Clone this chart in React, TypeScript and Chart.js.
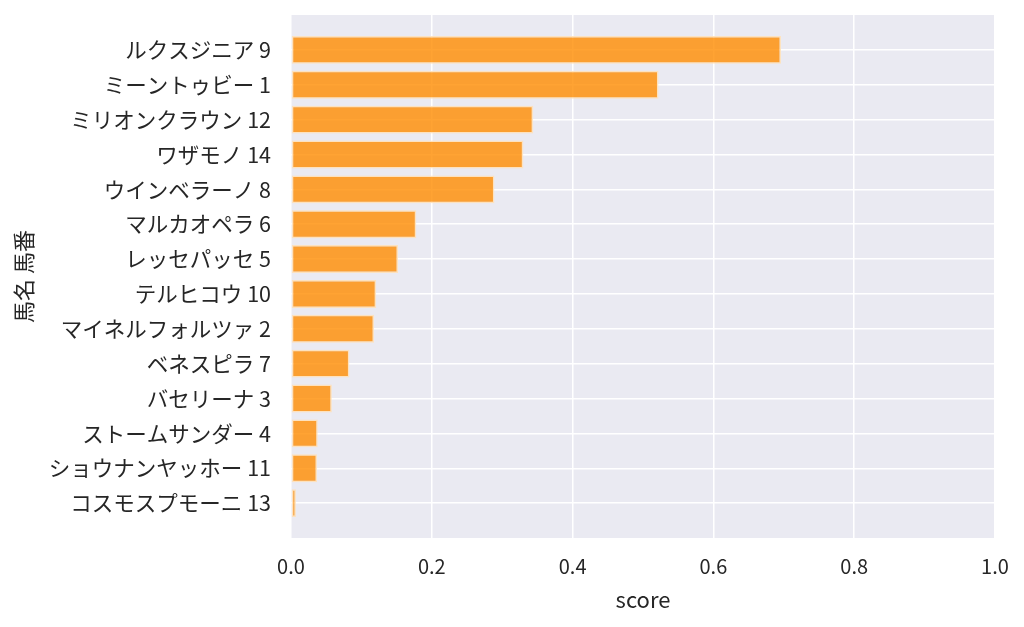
import { useEffect, useRef } from "react"
import { Chart, registerables, type Plugin } from "chart.js"

Chart.register(...registerables)

const horseNames = [
  "ルクスジニア",
  "ミーントゥビー",
  "ミリオンクラウン",
  "ワザモノ",
  "ウインベラーノ",
  "マルカオペラ",
  "レッセパッセ",
  "テルヒコウ",
  "マイネルフォルツァ",
  "ベネスピラ",
  "バセリーナ",
  "ストームサンダー",
  "ショウナンヤッホー",
  "コスモスプモーニ",
]
const horseNumbers = [9, 1, 12, 14, 8, 6, 5, 10, 2, 7, 3, 4, 11, 13]
const scores = [
  0.696, 0.522, 0.344, 0.33, 0.289, 0.178, 0.152, 0.121, 0.118, 0.083, 0.058,
  0.038, 0.037, 0.007,
]
const xTicks = [0, 0.2, 0.4, 0.6, 0.8, 1.0]

const FONT = '"Noto Sans CJK JP", "Noto Sans", sans-serif'
const TEXT = "#262626"

// blank first/last label gives the one-row margin above and below the bars
const labels = ["", ...horseNames.map((n, i) => `${n} ${horseNumbers[i]}`), ""]
const values = [null, ...scores, null]

const plotBackground: Plugin = {
  id: "plotBackground",
  beforeDraw(chart) {
    const { ctx, chartArea } = chart
    ctx.save()
    ctx.fillStyle = "#eaeaf2"
    ctx.fillRect(chartArea.left, chartArea.top, chartArea.width, chartArea.height)
    ctx.restore()
  },
}

export default function App() {
  const canvasRef = useRef<HTMLCanvasElement>(null)

  useEffect(() => {
    document.body.style.margin = "0"
    if (!canvasRef.current) return

    const chart = new Chart(canvasRef.current, {
      type: "bar",
      data: {
        labels,
        datasets: [
          {
            label: "score",
            data: values,
            backgroundColor: "rgba(255, 140, 0, 0.8)",
            borderColor: "rgba(255, 225, 185, 0.9)",
            borderWidth: 1.5,
            borderSkipped: false,
            barPercentage: 0.8,
            categoryPercentage: 1,
          },
        ],
      },
      options: {
        indexAxis: "y",
        animation: false,
        responsive: true,
        maintainAspectRatio: false,
        layout: { padding: { top: 15, right: 29, left: 0, bottom: 0 } },
        plugins: {
          legend: { display: false },
          tooltip: { enabled: false },
        },
        scales: {
          x: {
            min: 0,
            max: 1,
            afterBuildTicks: (scale) => {
              scale.ticks = xTicks.map((v) => ({ value: v }))
            },
            afterFit: (scale) => {
              scale.height = 89
              scale.paddingLeft = 0
              scale.paddingRight = 0
            },
            border: { display: false },
            grid: { color: "#ffffff", lineWidth: 1.5, drawTicks: false },
            ticks: {
              padding: 16,
              color: TEXT,
              font: { family: FONT, size: 20 },
              callback: (v) => Number(v).toFixed(1),
            },
            title: {
              display: true,
              text: "score",
              color: TEXT,
              font: { family: FONT, size: 22 },
              padding: { top: 4, bottom: 14 },
            },
          },
          y: {
            offset: false,
            afterFit: (scale) => {
              scale.width = 291
              scale.paddingTop = 0
              scale.paddingBottom = 0
            },
            border: { display: false },
            grid: {
              offset: false,
              color: (ctx) =>
                ctx.index === 0 || ctx.index === labels.length - 1
                  ? "rgba(0,0,0,0)"
                  : "#ffffff",
              lineWidth: 1.5,
              drawTicks: false,
            },
            ticks: {
              padding: 20,
              autoSkip: false,
              color: TEXT,
              font: { family: FONT, size: 21.5 },
            },
            title: {
              display: true,
              text: "馬名 馬番",
              color: TEXT,
              font: { family: FONT, size: 22 },
              padding: { top: 10, bottom: 0 },
            },
          },
        },
      },
      plugins: [plotBackground],
    })

    return () => {
      chart.destroy()
    }
  }, [])

  return (
    <div style={{ width: "1024px", height: "627px", background: "#ffffff" }}>
      <canvas ref={canvasRef} />
    </div>
  )
}
